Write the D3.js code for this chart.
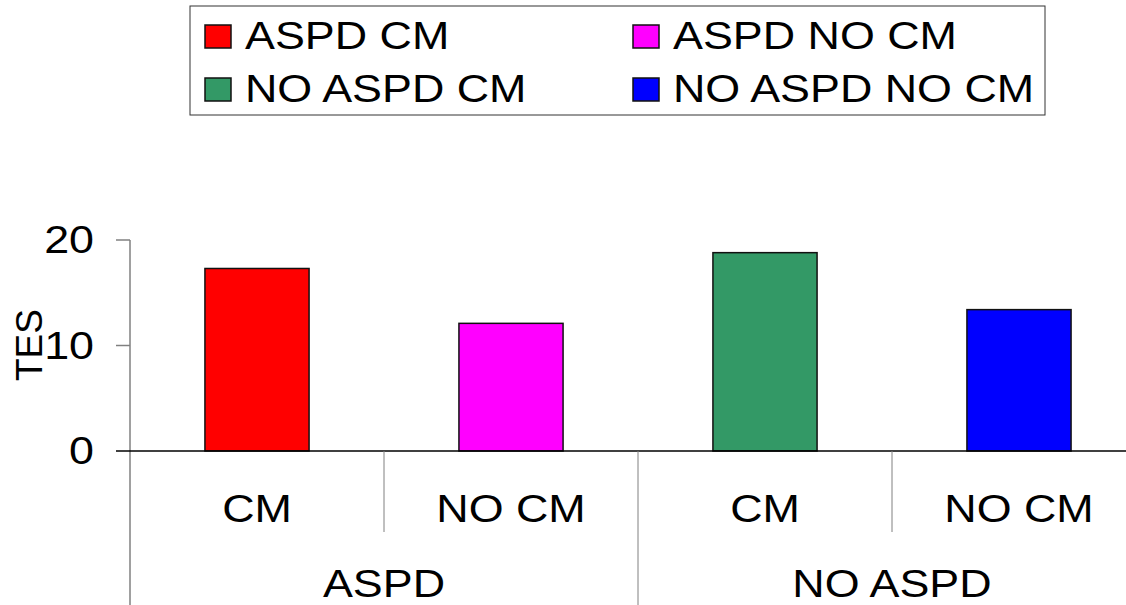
<!DOCTYPE html>
<html>
<head>
<meta charset="utf-8">
<script src="https://cdn.jsdelivr.net/npm/d3@7"></script>
<style>
  body { margin: 0; background: #fff; }
  svg { display: block; }
</style>
</head>
<body>
<div id="chart-container"></div>
<script>
// Chart data
const seriesNames = ["ASPD CM", "ASPD NO CM", "NO ASPD CM", "NO ASPD NO CM"];
const subLabels = ["CM", "NO CM", "CM", "NO CM"];
const groupLabels = ["ASPD", "NO ASPD"];
const values = [17.3, 12.1, 18.8, 13.4];
const colors = ["#ff0000", "#ff00ff", "#339966", "#0000ff"];
const yTicks = [0, 10, 20];

const W = 1126, H = 605;
const stretch = 1.18; // text in the original is a bit wide
const font = "'Liberation Sans', Arial, sans-serif";

const svg = d3.select("#chart-container")
  .append("svg")
  .attr("width", W)
  .attr("height", H);

svg.append("rect").attr("width", W).attr("height", H).attr("fill", "#fff");

// helper for the stretched text
function label(x, y, txt, anchor) {
  return svg.append("text")
    .attr("transform", `translate(${x},${y}) scale(${stretch},1)`)
    .attr("text-anchor", anchor || "middle")
    .style("font-family", font)
    .style("font-size", "38px")
    .attr("fill", "#000")
    .text(txt);
}

// Scales
const left = 130, step = 254;
const cats = d3.range(values.length);
const xCat = d3.scaleBand().domain(cats).range([left, left + step * cats.length]);
const x = d3.scaleBand().domain(cats).range([left, left + step * cats.length])
  .paddingInner(0.59).paddingOuter(0.295);
const xGroup = d3.scaleBand().domain(groupLabels).range([left, left + step * cats.length]);
const y = d3.scaleLinear().domain([0, 20]).range([451, 240]);

// Bars
svg.selectAll(".bar")
  .data(values)
  .join("rect")
  .attr("class", "bar")
  .attr("x", (d, i) => x(i))
  .attr("width", x.bandwidth())
  .attr("y", d => y(d))
  .attr("height", d => y(0) - y(d))
  .attr("fill", (d, i) => colors[i])
  .attr("stroke", "#111")
  .attr("stroke-width", 1.5);

// y axis line + ticks
svg.append("line")
  .attr("x1", left).attr("x2", left)
  .attr("y1", y(20)).attr("y2", H)
  .attr("stroke", "#808080").attr("stroke-width", 1.5);

svg.selectAll(".ytick")
  .data(yTicks.filter(d => d > 0))
  .join("line")
  .attr("x1", left - 14).attr("x2", left)
  .attr("y1", d => y(d)).attr("y2", d => y(d))
  .attr("stroke", "#808080").attr("stroke-width", 1.5);

yTicks.forEach(t => label(94, y(t) + 13, t, "end"));

// x axis line
svg.append("line")
  .attr("x1", left - 14).attr("x2", W)
  .attr("y1", y(0)).attr("y2", y(0))
  .attr("stroke", "#000").attr("stroke-width", 1.5);

// category separators: short between sub labels, long between groups
cats.slice(1).forEach(i => {
  const long = i % 2 === 0;
  svg.append("line")
    .attr("x1", xCat(i)).attr("x2", xCat(i))
    .attr("y1", y(0)).attr("y2", long ? H : 532)
    .attr("stroke", "#808080").attr("stroke-width", 1);
});

// x labels
subLabels.forEach((s, i) => label(xCat(i) + xCat.bandwidth() / 2, 522, s));
groupLabels.forEach(g => label(xGroup(g) + xGroup.bandwidth() / 2, 597, g));

// y axis title
svg.append("text")
  .attr("transform", `translate(42,345) rotate(-90)`)
  .attr("text-anchor", "middle")
  .style("font-family", font)
  .style("font-size", "37px")
  .text("TES");

// Legend
svg.append("rect")
  .attr("x", 190).attr("y", 6)
  .attr("width", 855).attr("height", 109)
  .attr("fill", "#fff")
  .attr("stroke", "#333").attr("stroke-width", 1);

const legX = [205, 633], legY = [25, 78];
seriesNames.forEach((name, i) => {
  const cx = legX[i % 2], cy = legY[Math.floor(i / 2)];
  svg.append("rect")
    .attr("x", cx).attr("y", cy)
    .attr("width", 26).attr("height", 23)
    .attr("fill", colors[i])
    .attr("stroke", "#111").attr("stroke-width", 1.5);
  label(cx + 40, cy + 24, name, "start");
});
</script>
</body>
</html>
